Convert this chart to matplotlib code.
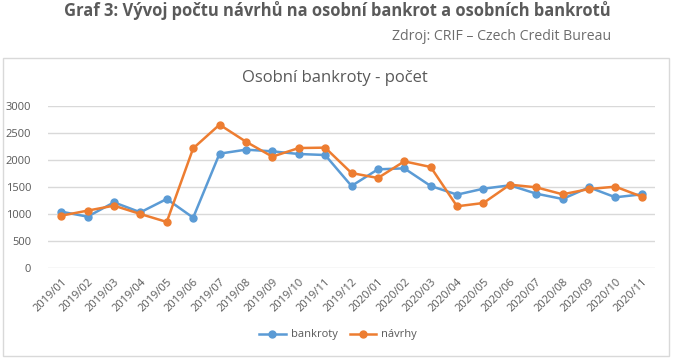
import matplotlib.pyplot as plt
from matplotlib.patches import Rectangle

months = ["2019/01", "2019/02", "2019/03", "2019/04", "2019/05", "2019/06",
          "2019/07", "2019/08", "2019/09", "2019/10", "2019/11", "2019/12",
          "2020/01", "2020/02", "2020/03", "2020/04", "2020/05", "2020/06",
          "2020/07", "2020/08", "2020/09", "2020/10", "2020/11"]
bankroty = [1045, 953, 1217, 1033, 1279, 934, 2115, 2189, 2158, 2109, 2090, 1519,
            1826, 1844, 1519, 1359, 1469, 1531, 1377, 1279, 1494, 1310, 1365]
navrhy = [971, 1064, 1156, 1002, 855, 2213, 2650, 2336, 2060, 2219, 2226, 1758,
          1666, 1973, 1869, 1144, 1205, 1543, 1494, 1365, 1463, 1506, 1322]

plt.rcParams['font.family'] = ['Open Sans', 'DejaVu Sans']

fig = plt.figure(figsize=(6.74, 3.62), dpi=100)
W, H = 674, 362

# chart frame
fig.patches.append(Rectangle((3 / W, 1 - 356 / H), 666 / W, 298 / H,
                             transform=fig.transFigure, fill=False,
                             edgecolor="#d9d9d9", linewidth=1))

fig.text(337 / W, 1 - 11 / H, "Graf 3: Vývoj počtu návrhů na osobní bankrot a osobních bankrotů",
         ha="center", va="center", fontsize=11.9, fontweight="bold", color="#5a5a5a")
fig.text(611 / W, 1 - 37 / H, "Zdroj: CRIF – Czech Credit Bureau",
         ha="right", va="center", fontsize=10.2, color="#6d6d6d")
fig.text(335 / W, 1 - 78 / H, "Osobní bankroty - počet",
         ha="center", va="center", fontsize=12, color="#595959")

ax = fig.add_axes([48 / W, 1 - 268.3 / H, 607 / W, 162.6 / H])
x = range(len(months))
ax.plot(x, bankroty, color="#5b9bd5", lw=1.8, marker="o", ms=5, label="bankroty")
ax.plot(x, navrhy, color="#ed7d31", lw=1.8, marker="o", ms=5, label="návrhy")

ax.set_xlim(-0.5, len(months) - 0.5)
ax.set_ylim(0, 3000)
ax.set_yticks(range(0, 3001, 500))
ax.set_xticks(list(x))
ax.set_xticklabels(months, rotation=45, ha="right", rotation_mode="anchor")
ax.tick_params(length=0, labelsize=8, colors="#595959")
ax.tick_params(axis="y", pad=12)
ax.tick_params(axis="x", pad=6)
ax.grid(axis="y", color="#d9d9d9", lw=1)
ax.set_axisbelow(True)
for s in ax.spines.values():
    s.set_visible(False)

ax.legend(loc="center", bbox_to_anchor=(338 / W, 1 - 335 / H),
          bbox_transform=fig.transFigure, ncol=2, frameon=False,
          fontsize=8, labelcolor="#595959", handlelength=2.4, columnspacing=1.1,
          handletextpad=0.45)

fig.savefig("out.png", dpi=100)
